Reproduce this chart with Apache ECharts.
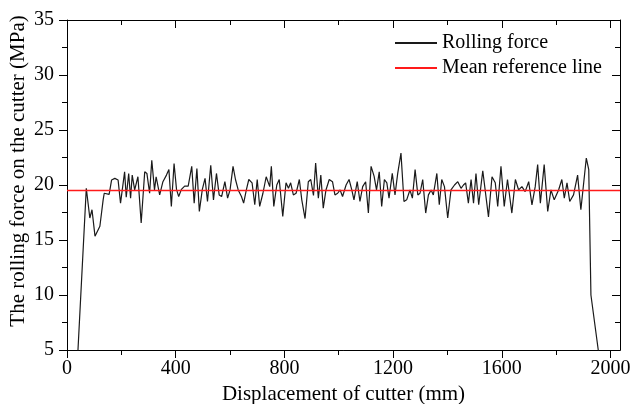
<!DOCTYPE html>
<html>
<head>
<meta charset="utf-8">
<script src="https://cdn.jsdelivr.net/npm/echarts@6/dist/echarts.min.js"></script>
<style>
html, body { margin: 0; padding: 0; background: #fff; }
#main { width: 632px; height: 404px; }
</style>
</head>
<body>
<div id="main"></div>
<script>
// displacement of cutter (mm) and rolling force (MPa)
var displacement = [30, 71, 84, 92, 103, 121, 133, 137, 155, 164, 176, 188, 197, 203, 212, 218, 227, 234, 240, 249,
	261, 273, 286, 294, 304, 312, 322, 328, 341, 353, 366, 375, 384, 394, 403, 411, 421, 433, 446, 459,
	468, 478, 487, 498, 508, 517, 529, 539, 550, 560, 569, 581, 591, 600, 611, 620, 630, 642, 650, 660,
	669, 681, 691, 700, 709, 721, 733, 746, 752, 761, 772, 781, 794, 806, 815, 823, 833, 843, 855, 864,
	876, 888, 897, 907, 915, 925, 934, 943, 953, 965, 977, 986, 996, 1005, 1014, 1027, 1038, 1048, 1056, 1068,
	1078, 1088, 1099, 1109, 1119, 1130, 1139, 1149, 1158, 1168, 1177, 1185, 1197, 1207, 1217, 1229, 1240, 1250, 1262, 1271,
	1281, 1291, 1299, 1309, 1320, 1330, 1340, 1348, 1361, 1370, 1379, 1389, 1401, 1413, 1426, 1438, 1450, 1459, 1467, 1477,
	1487, 1496, 1505, 1515, 1530, 1551, 1564, 1576, 1585, 1597, 1609, 1621, 1637, 1650, 1662, 1674, 1686, 1699, 1711, 1723,
	1732, 1742, 1756, 1769, 1781, 1793, 1809, 1821, 1830, 1840, 1850, 1864, 1879, 1891, 1911, 1920, 1928, 1955, 1975];
var rollingForce = [0, 19.7, 17.0, 17.75, 15.35, 16.25, 18.65, 19.25, 19.15, 20.45, 20.6, 20.45, 18.35, 18.5, 21.2, 18.9, 21.05, 18.8, 20.9, 19.55,
	20.75, 16.55, 21.2, 21.05, 19.25, 22.25, 19.55, 20.75, 19.1, 20.3, 20.9, 21.4, 18.05, 21.95, 19.6, 18.95, 19.6, 19.9, 19.9, 21.7,
	18.35, 21.5, 17.6, 19.6, 20.6, 18.5, 21.8, 18.65, 21.05, 19.1, 18.95, 20.3, 18.8, 19.55, 21.7, 20.5, 19.55, 18.95, 18.35, 19.55,
	20.5, 20.2, 18.2, 20.5, 18.05, 19.25, 20.75, 19.85, 21.7, 18.05, 20.0, 20.5, 17.15, 20.2, 19.7, 20.2, 19.1, 19.25, 20.5, 18.65,
	16.95, 20.3, 20.5, 19.05, 22.0, 18.8, 20.9, 17.9, 19.55, 20.5, 20.3, 19.1, 19.25, 19.55, 18.95, 20.0, 20.5, 19.55, 18.65, 20.3,
	18.5, 19.85, 20.3, 17.45, 21.7, 20.8, 19.55, 21.2, 18.05, 20.5, 20.2, 18.8, 21.05, 19.1, 21.05, 22.9, 18.5, 18.65, 19.55, 18.8,
	21.4, 19.1, 19.25, 20.5, 17.45, 19.1, 19.55, 19.1, 21.05, 18.2, 20.5, 19.85, 17.0, 19.55, 20.0, 20.3, 19.7, 20.0, 20.2, 18.35,
	20.5, 18.35, 21.05, 18.2, 21.3, 17.1, 20.75, 20.2, 18.05, 21.7, 18.05, 20.5, 17.45, 20.5, 19.55, 19.85, 19.4, 20.3, 18.2, 19.85,
	21.85, 18.35, 21.85, 17.6, 19.55, 18.65, 19.55, 20.5, 18.8, 20.2, 18.5, 19.1, 20.9, 17.75, 22.45, 21.4, 10.0, 5.0, 2.0];
var meanForce = 19.5;
var xRange = [0, 2035];
var xMajorTicks = [0, 400, 800, 1200, 1600, 2000];
var xMinorTicks = [200, 600, 1000, 1400, 1800];
var yRange = [5, 35];
var yStep = 5;

var font = "'Liberation Serif', 'Times New Roman', serif";
var black = '#000';

function plain(v) { return String(v); }

function xAxisOf(pos, ticks, len, inside, labels, name) {
	return {
		type: 'value', position: pos, min: xRange[0], max: xRange[1],
		name: name || '', nameLocation: 'middle', nameGap: 30,
		nameTextStyle: { fontFamily: font, fontSize: 21, color: black },
		axisLine: { show: true, onZero: false, lineStyle: { color: black, width: 1 } },
		axisTick: { show: true, inside: inside, length: len, customValues: ticks, lineStyle: { color: black } },
		axisLabel: { show: labels, customValues: ticks, margin: 9, formatter: plain, fontFamily: font, fontSize: 20, color: black },
		splitLine: { show: false }
	};
}

function yAxisOf(pos, inside, labels, name) {
	return {
		type: 'value', position: pos, min: yRange[0], max: yRange[1], interval: yStep,
		name: name || '', nameLocation: 'middle', nameGap: 38, nameMoveOverlap: false,
		nameTextStyle: { fontFamily: font, fontSize: 21, color: black, padding: [0, 0, 0, 28] },
		axisLine: { show: true, onZero: false, lineStyle: { color: black, width: 1 } },
		axisTick: { show: true, inside: inside, length: 8, lineStyle: { color: black } },
		minorTick: { show: true, splitNumber: 2, length: 5, lineStyle: { color: black } },
		axisLabel: { show: labels, margin: 13, formatter: plain, fontFamily: font, fontSize: 20, color: black },
		splitLine: { show: false }
	};
}

var forcePoints = displacement.map(function (x, i) { return [x, rollingForce[i]]; });

var myChart = echarts.init(document.getElementById('main'));
myChart.setOption({
	animation: false,
	backgroundColor: '#fff',
	grid: { left: 67, right: 12, top: 20, bottom: 54, outerBoundsMode: 'none', containLabel: false },
	legend: {
		orient: 'vertical', left: 390, top: 28, itemGap: 5,
		itemWidth: 42, itemHeight: 2,
		textStyle: { fontFamily: font, fontSize: 20, color: black },
		data: [
			{ name: 'Rolling force', icon: 'rect' },
			{ name: 'Mean reference line', icon: 'rect' }
		]
	},
	xAxis: [
		xAxisOf('bottom', xMajorTicks, 8, false, true, 'Displacement of cutter (mm)'),
		xAxisOf('bottom', xMinorTicks, 5, false, false),
		xAxisOf('top', xMajorTicks, 8, true, false),
		xAxisOf('top', xMinorTicks, 5, true, false)
	],
	yAxis: [
		yAxisOf('left', false, true, 'The rolling force on the cutter (MPa)'),
		yAxisOf('right', true, false)
	],
	series: [{
		name: 'Rolling force',
		type: 'line',
		symbol: 'none',
		clip: true,
		data: forcePoints,
		lineStyle: { color: '#1a1a1a', width: 1.2 },
		itemStyle: { color: '#1a1a1a' }
	}, {
		name: 'Mean reference line',
		type: 'line',
		symbol: 'none',
		data: [[xRange[0], meanForce], [xRange[1], meanForce]],
		lineStyle: { color: '#ff1a1a', width: 1.6 },
		itemStyle: { color: '#ff1a1a' }
	}]
});
</script>
</body>
</html>
